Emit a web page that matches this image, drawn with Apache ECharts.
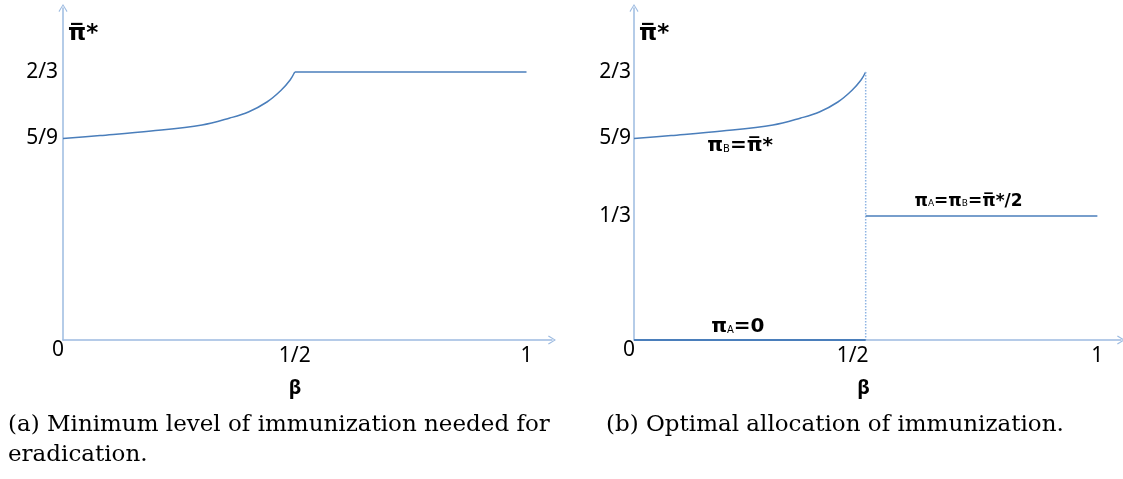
<!DOCTYPE html>
<html>
<head>
<meta charset="utf-8">
<title>Immunization</title>
<script src="https://cdn.jsdelivr.net/npm/echarts@6/dist/echarts.min.js"></script>
<style>
html, body { margin: 0; padding: 0; background: #fff; }
#chart { width: 1123px; height: 479px; }
</style>
</head>
<body>
<div id="chart"></div>
<script>
// x is beta, y is the height in the sketch (the levels are not drawn to scale)
var beta_curve = [0, 0.08, 0.19, 0.30, 0.36, 0.40, 0.44, 0.47, 0.49, 0.5];
var pi_curve = [201.5, 204.5, 209, 215, 222, 228, 238, 249.5, 260, 268];
var beta_high = [0.5, 1];
var pi_flat_a = [268, 268];
var pi_flat_b = [124, 124];
var beta_low = [0, 0.5];
var pi_zero = [0, 0];
var beta_jump = [0.5, 0.5];
var pi_jump = [268, 0];

var x_ticks = [0, 0.5, 1];
var x_labels = ['0', '1/2', '1'];
var y_ticks = [268, 201.5, 124];
var y_labels = ['2/3', '5/9', '1/3'];

var note_beta = [0.229, 0.224, 0.722];
var note_pi = [194, 13, 138];
var note_text = [
    '{p|π}{s|B}{p|=π\u0305*}',
    '{p|π}{s|A}{p|=0}',
    '{q|π}{t|A}{q|=π}{t|B}{q|=π\u0305*/2}'
];

function pairs(xs, ys) {
    return xs.map(function (x, i) {
        return [x, ys[i]];
    });
}

var line_color = '#4a7ebb';
var axis_color = '#9dbbe1';
var tick_font = 'Noto Sans';
var arrow = 'path://M0,0L5,8L4,8.8L0,2L-4,8.8L-5,8Z';

function make_x(idx, max) {
    return {
        gridIndex: idx,
        type: 'value',
        min: 0,
        max: max,
        splitLine: {show: false},
        axisTick: {show: false},
        axisLine: {
            symbol: ['none', arrow],
            symbolSize: [9, 8],
            lineStyle: {color: axis_color, width: 1.5}
        },
        axisLabel: {
            customValues: x_ticks,
            margin: 0,
            formatter: function (v) {
                var i = x_ticks.indexOf(v);
                if (i === 0) return '{z|0}';
                if (i === 1 && idx === 1) return '{h|' + x_labels[i] + '}';
                return '{n|' + x_labels[i] + '}';
            },
            rich: {
                z: {fontFamily: tick_font, fontSize: 21, color: '#000', padding: [0, 10, 0, 0]},
                n: {fontFamily: tick_font, fontSize: 21, color: '#000', padding: [6, 0, 0, 0]},
                h: {fontFamily: tick_font, fontSize: 21, color: '#000', padding: [6, 26, 0, 0]}
            }
        },
        name: 'β',
        nameLocation: 'middle',
        nameGap: 38,
        nameTextStyle: {
            fontFamily: tick_font, fontSize: 20, fontWeight: 'bold', color: '#000',
            padding: [0, idx === 0 ? 25 : 28, 0, 0]
        }
    };
}

function make_y(idx, n) {
    return {
        gridIndex: idx,
        type: 'value',
        min: 0,
        max: 332,
        splitLine: {show: false},
        axisTick: {show: false},
        axisLine: {
            symbol: ['none', arrow],
            symbolSize: [9, 8],
            lineStyle: {color: axis_color, width: 1.5}
        },
        axisLabel: {
            customValues: y_ticks.slice(0, n),
            margin: idx === 0 ? 5 : 3,
            fontFamily: tick_font,
            fontSize: 21,
            color: '#000',
            formatter: function (v) {
                return y_labels[y_ticks.indexOf(v)];
            }
        },
        name: 'π\u0305*',
        nameLocation: 'end',
        nameGap: -38,
        nameTextStyle: {
            fontFamily: 'DejaVu Sans', fontSize: 23, fontWeight: 'bold', color: '#000',
            align: 'left', verticalAlign: 'bottom', padding: [0, 0, 0, 5]
        }
    };
}

function line(idx, data, style) {
    return {
        type: 'line',
        xAxisIndex: idx,
        yAxisIndex: idx,
        data: data,
        showSymbol: false,
        silent: true,
        lineStyle: style || {color: line_color, width: 1.5}
    };
}

var curve_a = line(0, pairs(beta_curve, pi_curve));
curve_a.smooth = 0.35;
var curve_b = line(1, pairs(beta_curve, pi_curve));
curve_b.smooth = 0.35;

var caption_style = {
    fontFamily: 'DejaVu Serif', fontSize: 23, fontWeight: 'normal', color: '#000', lineHeight: 30
};

var chart = echarts.init(document.getElementById('chart'));
var option = {
    animation: false,
    backgroundColor: '#fff',
    title: [{
        text: '(a) Minimum level of immunization needed for\neradication.',
        left: 8, top: 410, padding: 0, textStyle: caption_style
    }, {
        text: '(b) Optimal allocation of immunization.',
        left: 606, top: 410, padding: 0, textStyle: caption_style
    }],
    grid: [
        {left: 63, top: 8, width: 489, height: 332},
        {left: 634, top: 8, width: 487, height: 332}
    ],
    xAxis: [make_x(0, 1.055), make_x(1, 1.051)],
    yAxis: [make_y(0, 2), make_y(1, 3)],
    series: [
        curve_a,
        line(0, pairs(beta_high, pi_flat_a)),
        curve_b,
        line(1, pairs(beta_jump, pi_jump), {color: '#8eb4e3', width: 1.5, type: 'dotted'}),
        line(1, pairs(beta_high, pi_flat_b)),
        line(1, pairs(beta_low, pi_zero), {color: line_color, width: 2}),
        {
            type: 'scatter',
            xAxisIndex: 1,
            yAxisIndex: 1,
            symbolSize: 0,
            silent: true,
            data: pairs(note_beta, note_pi),
            label: {
                show: true,
                position: [0, 0],
                align: 'center',
                verticalAlign: 'middle',
                color: '#000',
                opacity: 1,
                formatter: function (p) {
                    return note_text[p.dataIndex];
                },
                rich: {
                    p: {fontFamily: 'DejaVu Sans', fontSize: 20, fontWeight: 'bold', color: '#000', verticalAlign: 'bottom'},
                    s: {fontFamily: 'DejaVu Sans', fontSize: 10, color: '#000', verticalAlign: 'bottom', padding: [0, 0, 2, 0]},
                    q: {fontFamily: 'DejaVu Sans', fontSize: 17, fontWeight: 'bold', color: '#000', verticalAlign: 'bottom'},
                    t: {fontFamily: 'DejaVu Sans', fontSize: 9, color: '#000', verticalAlign: 'bottom', padding: [0, 0, 2, 0]}
                }
            }
        }
    ]
};
chart.setOption(option);
</script>
</body>
</html>
